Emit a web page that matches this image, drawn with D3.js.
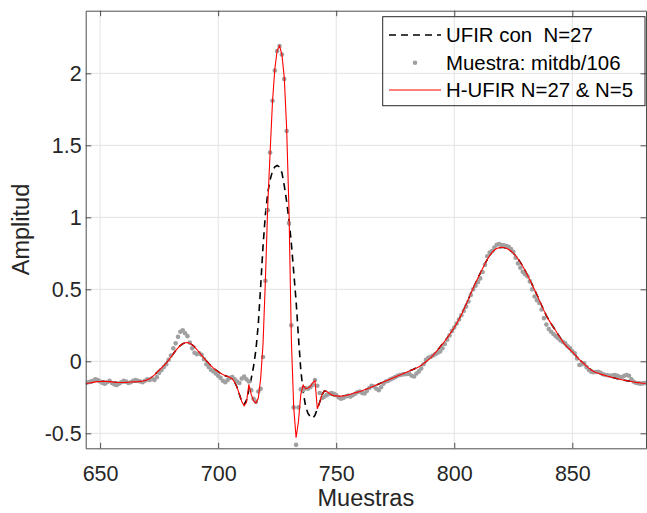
<!DOCTYPE html>
<html>
<head>
<meta charset="utf-8">
<script src="https://cdn.jsdelivr.net/npm/d3@7"></script>
<style>
  body { margin: 0; background: #fff; }
  svg { display: block; font-family: "Liberation Sans", Arial, Helvetica, sans-serif; }
</style>
</head>
<body>
<svg id="chart" width="647" height="513"></svg>
<script>
// sample index of the first value in every series below (one value per sample)
const firstSample = 644;

// raw ECG samples, mitdb/106
const muestra = [
  -0.150, -0.145, -0.140, -0.135, -0.125, -0.130, -0.140, -0.150, -0.155, -0.145, // 644
  -0.135, -0.150, -0.160, -0.165, -0.155, -0.145, -0.135, -0.140, -0.150, -0.145, // 654
  -0.135, -0.130, -0.135, -0.140, -0.145, -0.135, -0.125, -0.130, -0.120, -0.130, // 664
  -0.110, -0.080, -0.060, -0.040, -0.020, 0.010, 0.040, 0.090, 0.125, 0.170,      // 674
  0.205, 0.215, 0.195, 0.175, 0.130, 0.090, 0.060, 0.050, 0.055, 0.045,          // 684
  0.015, -0.020, -0.040, -0.060, -0.070, -0.085, -0.100, -0.115, -0.135, -0.145,  // 694
  -0.130, -0.115, -0.110, -0.125, -0.140, -0.150, -0.120, -0.105, -0.125, -0.140, // 704
  -0.200, -0.260, -0.280, -0.210, -0.190, 0.030, 0.560, 1.050, 1.450, 1.810,      // 714
  2.020, 2.155, 2.190, 2.130, 1.960, 1.600, 0.960, 0.250, -0.320, -0.580,         // 724
  -0.320, -0.195, -0.200, -0.185, -0.190, -0.180, -0.165, -0.130, -0.170, -0.220, // 734
  -0.255, -0.245, -0.235, -0.225, -0.220, -0.225, -0.235, -0.250, -0.260, -0.255, // 744
  -0.245, -0.240, -0.245, -0.235, -0.225, -0.215, -0.210, -0.220, -0.223, -0.205, // 754
  -0.185, -0.170, -0.175, -0.190, -0.200, -0.180, -0.155, -0.140, -0.135, -0.125, // 764
  -0.118, -0.110, -0.100, -0.095, -0.092, -0.090, -0.088, -0.088, -0.100, -0.105, // 774
  -0.085, -0.070, -0.050, -0.020, 0.010, 0.025, 0.032, 0.040, 0.050, 0.060,       // 784
  0.068, 0.090, 0.120, 0.150, 0.180, 0.210, 0.235, 0.263, 0.290, 0.320,           // 794
  0.350, 0.380, 0.415, 0.460, 0.500, 0.525, 0.550, 0.576, 0.620, 0.670,           // 804
  0.730, 0.755, 0.765, 0.790, 0.810, 0.815, 0.808, 0.805, 0.800, 0.795,           // 814
  0.780, 0.760, 0.720, 0.680, 0.650, 0.622, 0.605, 0.590, 0.555, 0.500,           // 824
  0.450, 0.425, 0.405, 0.360, 0.300, 0.255, 0.225, 0.205, 0.190, 0.175,           // 834
  0.160, 0.145, 0.135, 0.125, 0.105, 0.090, 0.070, 0.055, 0.020, -0.025,          // 844
  -0.020, -0.014, -0.040, -0.060, -0.072, -0.075, -0.074, -0.072, -0.080, -0.090, // 854
  -0.095, -0.097, -0.100, -0.098, -0.095, -0.100, -0.107, -0.110, -0.100, -0.095, // 864
  -0.100, -0.125, -0.142, -0.150, -0.153, -0.155, -0.153, -0.150                  // 874
];

// H-UFIR N=27 & N=5 output
const hufir = [
  -0.155, -0.152, -0.149, -0.146, -0.143, -0.141, -0.140, -0.139, -0.139, -0.140, // 644
  -0.141, -0.143, -0.145, -0.146, -0.147, -0.147, -0.147, -0.146, -0.145, -0.144, // 654
  -0.143, -0.142, -0.141, -0.139, -0.137, -0.134, -0.128, -0.120, -0.108, -0.094, // 664
  -0.078, -0.062, -0.046, -0.030, -0.012, 0.008, 0.030, 0.052, 0.074, 0.094,      // 674
  0.110, 0.122, 0.129, 0.130, 0.125, 0.115, 0.100, 0.082, 0.062, 0.042,           // 684
  0.022, 0.003, -0.015, -0.032, -0.047, -0.060, -0.072, -0.083, -0.092, -0.100,   // 694
  -0.106, -0.112, -0.122, -0.145, -0.180, -0.230, -0.280, -0.308, -0.285, -0.160, // 704
  -0.230, -0.275, -0.290, -0.255, -0.120, 0.120, 0.560, 1.080, 1.450, 1.800,      // 714
  2.030, 2.160, 2.190, 2.130, 1.970, 1.620, 1.050, 0.150, -0.320, -0.530,         // 724
  -0.420, -0.230, -0.165, -0.190, -0.185, -0.175, -0.150, -0.135, -0.330, -0.285, // 734
  -0.230, -0.205, -0.210, -0.222, -0.232, -0.238, -0.240, -0.242, -0.242, -0.240, // 744
  -0.237, -0.233, -0.228, -0.223, -0.218, -0.214, -0.210, -0.204, -0.198, -0.192, // 754
  -0.186, -0.179, -0.172, -0.165, -0.158, -0.151, -0.144, -0.137, -0.130, -0.123, // 764
  -0.116, -0.109, -0.102, -0.095, -0.088, -0.081, -0.074, -0.067, -0.060, -0.053, // 774
  -0.046, -0.038, -0.028, -0.016, -0.003, 0.010, 0.024, 0.041, 0.060, 0.080,      // 784
  0.100, 0.120, 0.141, 0.163, 0.186, 0.210, 0.235, 0.262, 0.292, 0.323,           // 794
  0.358, 0.394, 0.432, 0.470, 0.507, 0.543, 0.578, 0.611, 0.645, 0.678,           // 804
  0.708, 0.735, 0.757, 0.773, 0.783, 0.789, 0.791, 0.790, 0.785, 0.777,           // 814
  0.766, 0.751, 0.733, 0.711, 0.686, 0.660, 0.630, 0.598, 0.566, 0.532,           // 824
  0.497, 0.462, 0.425, 0.388, 0.352, 0.318, 0.288, 0.262, 0.237, 0.212,           // 834
  0.185, 0.160, 0.135, 0.115, 0.097, 0.082, 0.066, 0.048, 0.030, 0.012,           // 844
  -0.003, -0.018, -0.033, -0.047, -0.060, -0.070, -0.077, -0.083, -0.089, -0.094, // 854
  -0.099, -0.104, -0.108, -0.112, -0.116, -0.120, -0.124, -0.128, -0.131, -0.134, // 864
  -0.137, -0.140, -0.143, -0.146, -0.148, -0.150, -0.152, -0.154                  // 874
];

// UFIR N=27 output
const ufir = [
  -0.155, -0.152, -0.149, -0.146, -0.143, -0.141, -0.140, -0.139, -0.139, -0.140, // 644
  -0.141, -0.143, -0.145, -0.146, -0.147, -0.147, -0.147, -0.146, -0.145, -0.144, // 654
  -0.143, -0.142, -0.141, -0.139, -0.137, -0.134, -0.128, -0.120, -0.108, -0.094, // 664
  -0.078, -0.062, -0.046, -0.030, -0.012, 0.008, 0.030, 0.052, 0.074, 0.094,      // 674
  0.110, 0.122, 0.129, 0.130, 0.125, 0.115, 0.100, 0.082, 0.062, 0.042,           // 684
  0.022, 0.003, -0.015, -0.032, -0.047, -0.060, -0.072, -0.083, -0.092, -0.100,   // 694
  -0.106, -0.112, -0.122, -0.145, -0.180, -0.230, -0.280, -0.300, -0.270, -0.200, // 704
  -0.120, -0.035, 0.080, 0.260, 0.520, 0.800, 1.020, 1.170, 1.260, 1.320,         // 714
  1.350, 1.360, 1.350, 1.310, 1.220, 1.110, 0.980, 0.820, 0.620, 0.420,           // 724
  0.170, -0.060, -0.210, -0.310, -0.360, -0.385, -0.395, -0.375, -0.330, -0.285,  // 734
  -0.230, -0.205, -0.210, -0.222, -0.232, -0.238, -0.240, -0.242, -0.242, -0.240, // 744
  -0.237, -0.233, -0.228, -0.223, -0.218, -0.214, -0.210, -0.204, -0.198, -0.192, // 754
  -0.186, -0.179, -0.172, -0.165, -0.158, -0.151, -0.144, -0.137, -0.130, -0.123, // 764
  -0.116, -0.109, -0.102, -0.095, -0.088, -0.081, -0.074, -0.067, -0.060, -0.053, // 774
  -0.046, -0.038, -0.028, -0.016, -0.003, 0.010, 0.024, 0.041, 0.060, 0.080,      // 784
  0.100, 0.120, 0.141, 0.163, 0.186, 0.210, 0.235, 0.262, 0.292, 0.323,           // 794
  0.358, 0.394, 0.432, 0.470, 0.507, 0.543, 0.578, 0.611, 0.645, 0.678,           // 804
  0.708, 0.735, 0.757, 0.773, 0.783, 0.789, 0.791, 0.790, 0.785, 0.777,           // 814
  0.766, 0.751, 0.733, 0.711, 0.686, 0.660, 0.630, 0.598, 0.566, 0.532,           // 824
  0.497, 0.462, 0.425, 0.388, 0.352, 0.318, 0.288, 0.262, 0.237, 0.212,           // 834
  0.185, 0.160, 0.135, 0.115, 0.097, 0.082, 0.066, 0.048, 0.030, 0.012,           // 844
  -0.003, -0.018, -0.033, -0.047, -0.060, -0.070, -0.077, -0.083, -0.089, -0.094, // 854
  -0.099, -0.104, -0.108, -0.112, -0.116, -0.120, -0.124, -0.128, -0.131, -0.134, // 864
  -0.137, -0.140, -0.143, -0.146, -0.148, -0.150, -0.152, -0.154                  // 874
];

const xTicks = [650, 700, 750, 800, 850];
const yTicks = [-0.5, 0, 0.5, 1, 1.5, 2];
const xDomain = [643.9, 881.2];
const yDomain = [-0.604, 2.435];
const legendLabels = ["UFIR con  N=27", "Muestra: mitdb/106", "H-UFIR N=27 & N=5"];
const xLabel = "Muestras";
const yLabel = "Amplitud";

class filterComparisonViz {
    constructor(_config) {
        this.config = {
            parentElement: _config.parentElement,
            containerWidth: _config.containerWidth,
            containerHeight: _config.containerHeight,
        }
        this.config.margin = _config.margin || { top: 10.7, bottom: 64.7, right: 1, left: 85.7 }
        this.initVis();
    }

    initVis() {
        let vis = this;
        vis.width = vis.config.containerWidth - vis.config.margin.left - vis.config.margin.right;
        vis.height = vis.config.containerHeight - vis.config.margin.top - vis.config.margin.bottom;
        vis.TICK = 5.5;
        vis.POINT_RADIUS = 2.3;

        const svg = d3.select(vis.config.parentElement);
        vis.g = svg.append('g')
            .attr('transform', `translate(${vis.config.margin.left},${vis.config.margin.top})`);

        vis.xScale = d3.scaleLinear().domain(xDomain).range([0, vis.width]);
        vis.yScale = d3.scaleLinear().domain(yDomain).range([vis.height, 0]);

        vis.g.append('clipPath').attr('id', 'plot-clip')
            .append('rect').attr('width', vis.width).attr('height', vis.height);

        // light grid under the data
        const grid = vis.g.append('g').attr('class', 'grid')
            .attr('stroke', '#e3e3e3').attr('stroke-width', 1);
        grid.selectAll('line.gx').data(xTicks).join('line').attr('class', 'gx')
            .attr('x1', d => vis.xScale(d)).attr('x2', d => vis.xScale(d))
            .attr('y1', 0).attr('y2', vis.height);
        grid.selectAll('line.gy').data(yTicks).join('line').attr('class', 'gy')
            .attr('y1', d => vis.yScale(d)).attr('y2', d => vis.yScale(d))
            .attr('x1', 0).attr('x2', vis.width);

        vis.render();
        vis.drawAxes();
        vis.drawLegend();
    }

    render() {
        let vis = this;
        const sampleX = (d, i) => vis.xScale(firstSample + i);
        const line = d3.line().x(sampleX).y(d => vis.yScale(d));
        const plot = vis.g.append('g').attr('clip-path', 'url(#plot-clip)');

        plot.append('path')
            .datum(ufir)
            .attr('fill', 'none')
            .attr('stroke', '#000')
            .attr('stroke-width', 1.6)
            .attr('stroke-dasharray', '7,5')
            .attr('d', line);

        plot.append('g').attr('class', 'all-circles')
            .selectAll('circle')
            .data(muestra)
            .join('circle')
            .attr('r', vis.POINT_RADIUS)
            .attr('cx', sampleX)
            .attr('cy', d => vis.yScale(d))
            .attr('fill', '#a0a0a0');

        plot.append('path')
            .datum(hufir)
            .attr('fill', 'none')
            .attr('stroke', '#ff0000')
            .attr('stroke-width', 1.1)
            .attr('d', line);
    }

    drawAxes() {
        let vis = this;
        const fmt = d => String(d);

        const xAxis = vis.g.append('g')
            .attr('transform', `translate(0,${vis.height})`)
            .call(d3.axisBottom(vis.xScale).tickValues(xTicks).tickFormat(fmt)
                .tickSizeInner(-vis.TICK).tickSizeOuter(0).tickPadding(17));
        const yAxis = vis.g.append('g')
            .call(d3.axisLeft(vis.yScale).tickValues(yTicks).tickFormat(fmt)
                .tickSizeInner(-vis.TICK).tickSizeOuter(0).tickPadding(4));
        const topAxis = vis.g.append('g')
            .call(d3.axisTop(vis.xScale).tickValues(xTicks).tickFormat('')
                .tickSizeInner(-vis.TICK).tickSizeOuter(0));
        const rightAxis = vis.g.append('g')
            .attr('transform', `translate(${vis.width},0)`)
            .call(d3.axisRight(vis.yScale).tickValues(yTicks).tickFormat('')
                .tickSizeInner(-vis.TICK).tickSizeOuter(0));

        [xAxis, yAxis, topAxis, rightAxis].forEach(a => {
            a.selectAll('path.domain').attr('stroke', '#4d4d4d');
            a.selectAll('.tick line').attr('stroke', '#4d4d4d');
            a.selectAll('.tick text')
                .attr('fill', '#262626')
                .style('font-size', '21.5px')
                .style('font-family', '"Liberation Sans", Arial, sans-serif');
        });

        vis.g.append('text')
            .attr('x', vis.width / 2)
            .attr('y', vis.height + 57.5)
            .attr('text-anchor', 'middle')
            .attr('fill', '#262626')
            .style('font-size', '23.5px')
            .text(xLabel);

        vis.g.append('text')
            .attr('transform', `translate(${29 - vis.config.margin.left},${vis.height / 2}) rotate(-90)`)
            .attr('text-anchor', 'middle')
            .attr('fill', '#262626')
            .style('font-size', '23.5px')
            .text(yLabel);
    }

    drawLegend() {
        let vis = this;
        const legend = d3.select(vis.config.parentElement).append('g')
            .attr('class', 'legend')
            .attr('transform', 'translate(382.7,16.7)');

        legend.append('rect')
            .attr('width', 262.3).attr('height', 89)
            .attr('fill', 'none')
            .attr('stroke', '#262626').attr('stroke-width', 1);

        const rowY = [18.3, 46, 73.3];
        const rows = legend.selectAll('g.row').data(legendLabels).join('g')
            .attr('class', 'row')
            .attr('transform', (d, i) => `translate(0,${rowY[i]})`);

        rows.filter((d, i) => i === 0).append('line')
            .attr('x1', 6.3).attr('x2', 58.3)
            .attr('stroke', '#000').attr('stroke-width', 1.6).attr('stroke-dasharray', '7,5');
        rows.filter((d, i) => i === 1).append('circle')
            .attr('cx', 32.3).attr('r', vis.POINT_RADIUS).attr('fill', '#a0a0a0');
        rows.filter((d, i) => i === 2).append('line')
            .attr('x1', 6.3).attr('x2', 58.3)
            .attr('stroke', '#ff0000').attr('stroke-width', 1.1);

        rows.append('text')
            .attr('x', 63.3)
            .attr('dy', '0.35em')
            .attr('fill', '#000')
            .style('font-size', '20.4px')
            .style('white-space', 'pre')
            .text(d => d);
    }
}

new filterComparisonViz({
    parentElement: '#chart',
    containerWidth: 647,
    containerHeight: 513,
});
</script>
</body>
</html>
